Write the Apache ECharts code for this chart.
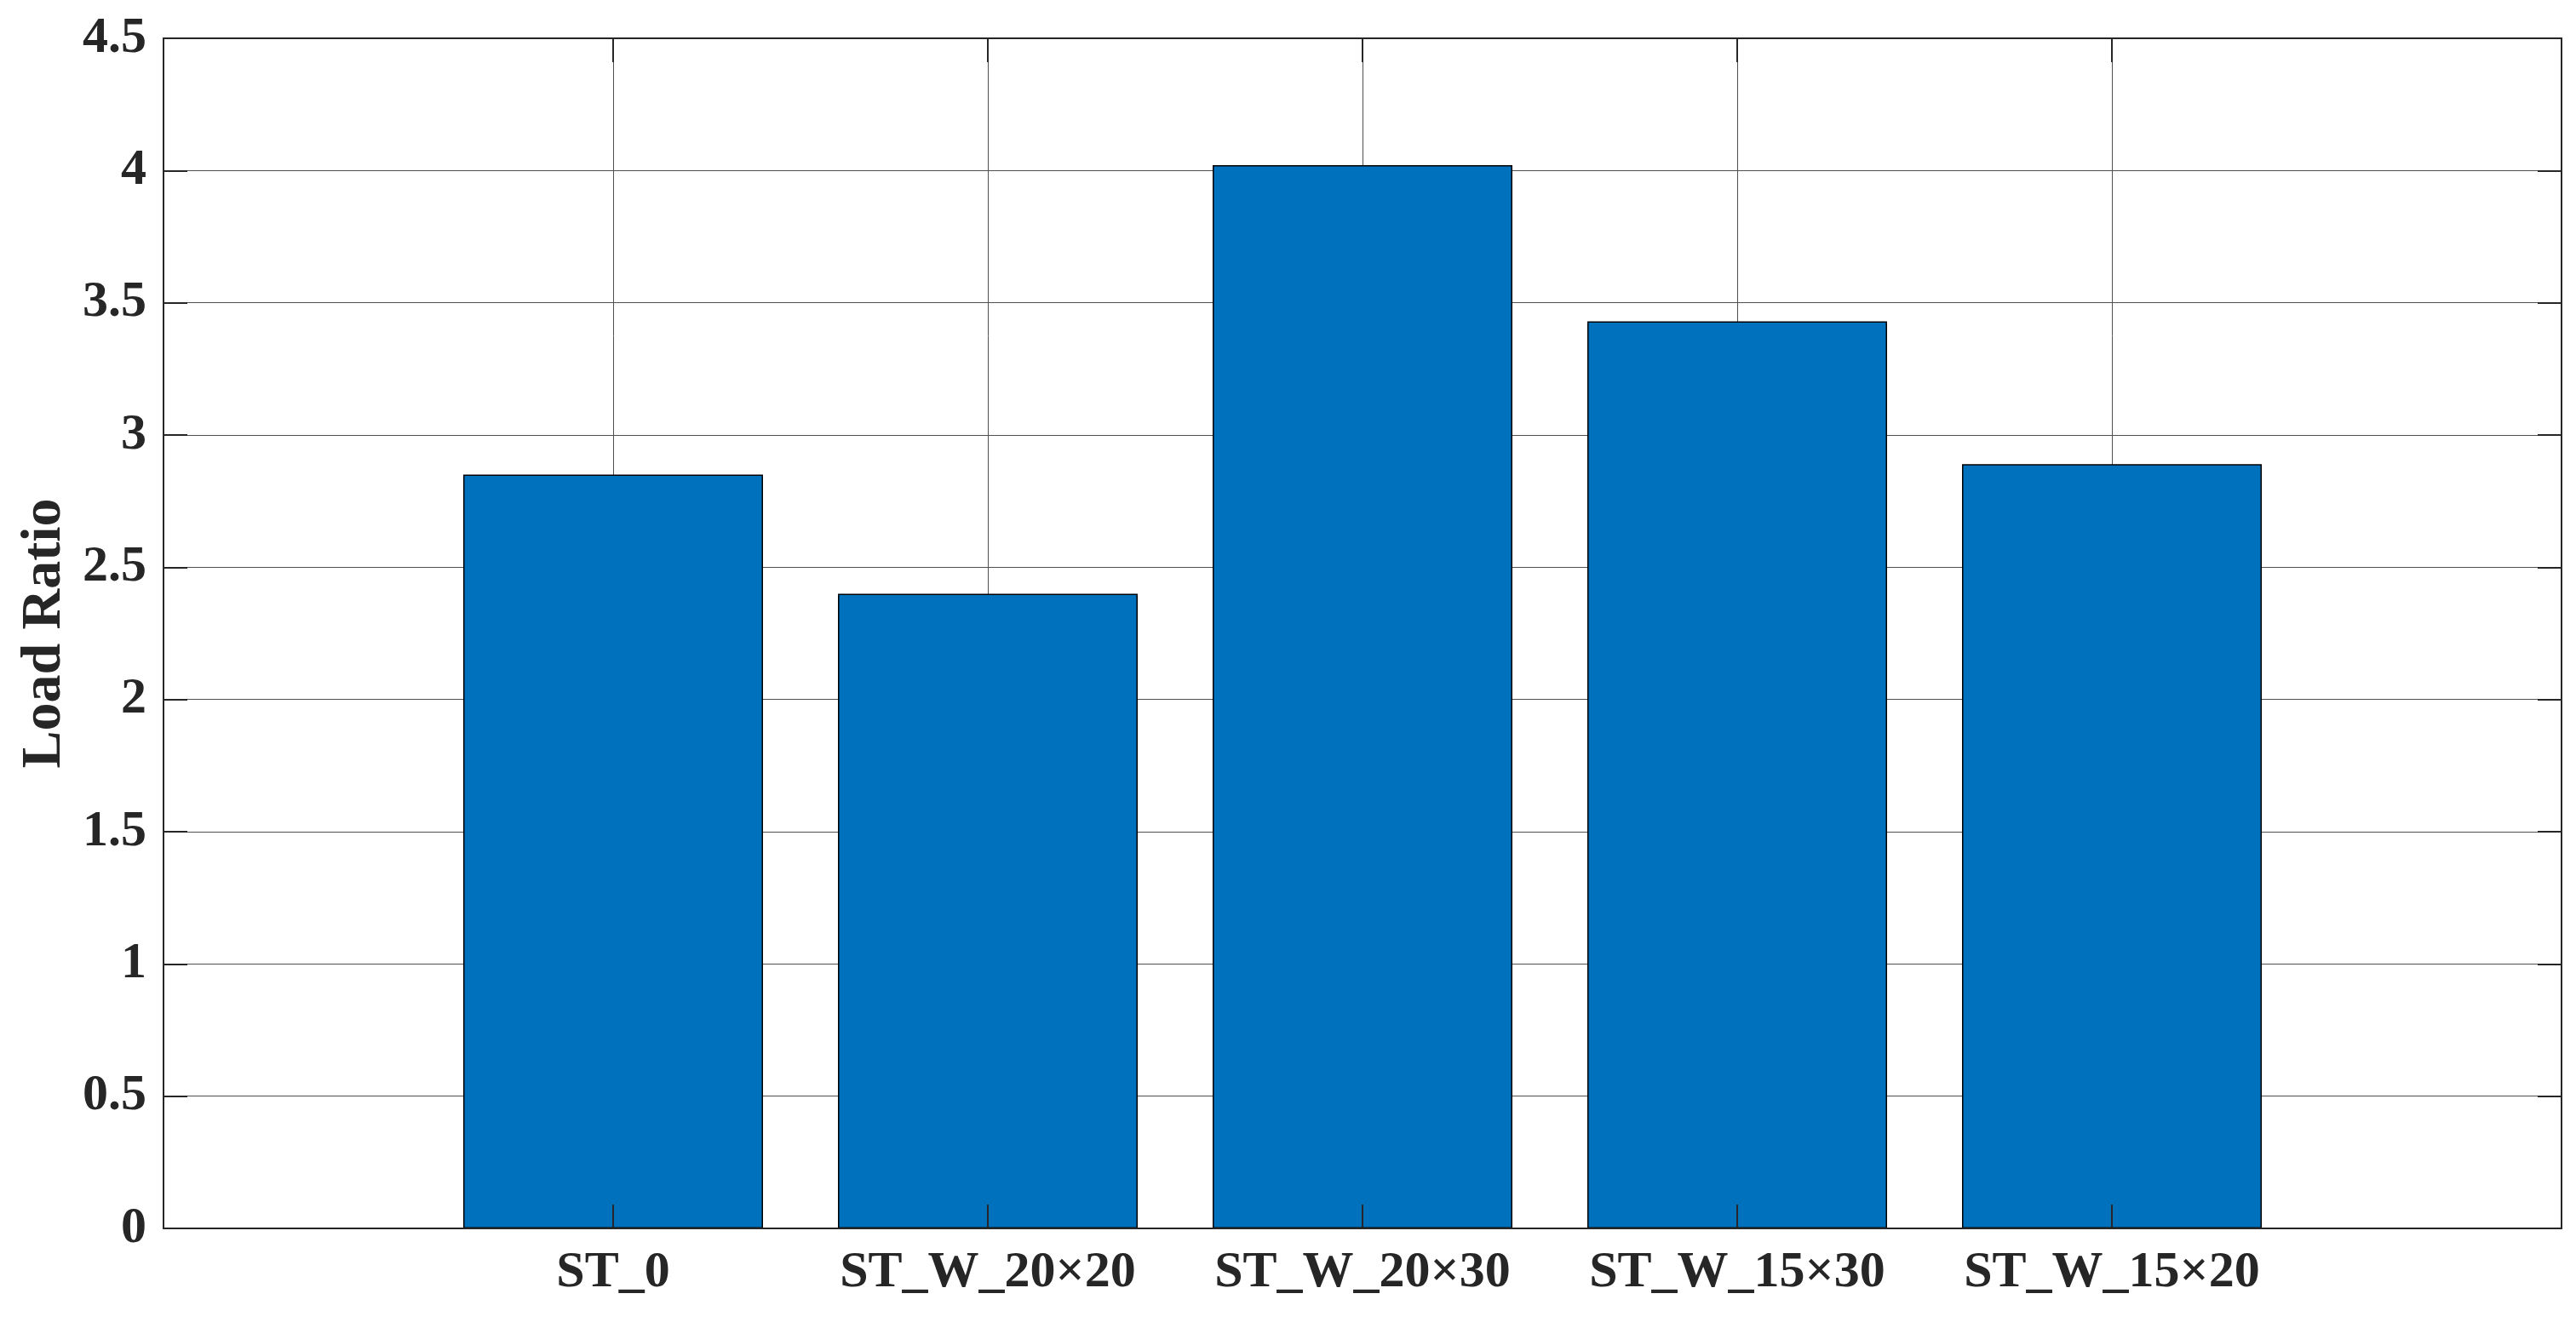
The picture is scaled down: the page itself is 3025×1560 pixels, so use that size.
<!DOCTYPE html>
<html>
<head>
<meta charset="utf-8">
<script src="https://cdn.jsdelivr.net/npm/echarts@6/dist/echarts.min.js"></script>
<style>
  html, body { margin: 0; padding: 0; background: #fff; }
  #chart { width: 3025px; height: 1560px; }
</style>
</head>
<body>
<div id="chart"></div>
<script>
// data
const categories = ["ST_0", "ST_W_20×20", "ST_W_20×30", "ST_W_15×30", "ST_W_15×20"];
const positions = [1, 2, 3, 4, 5];
const loadRatio = [2.85, 2.40, 4.02, 3.43, 2.89];
const yTicks = [0, 4.5, 0.5]; // min, max, step

const font = "'Liberation Serif', 'Times New Roman', serif";
const ink = "#262626";
const grid = { left: 192, right: 17, top: 45, bottom: 117 };
const xMin = -0.2, xMax = 6.2;

const chart = echarts.init(document.getElementById("chart"));
const unit = (chart.getWidth() - grid.left - grid.right) / (xMax - xMin);

const barData = positions.map((p, i) => [p, loadRatio[i]]);

// shared bits for the "box" axes drawn above the bars
const boxLine = { show: true, onZero: false, lineStyle: { color: ink, width: 2 } };
const boxTick = { show: true, inside: true, length: 28, lineStyle: { color: ink, width: 2 } };

chart.setOption({
  animation: false,
  backgroundColor: "#fff",
  grid: grid,
  xAxis: [
    {
      // grid lines only, behind bars
      type: "value", min: xMin, max: xMax, position: "bottom", z: 0,
      axisLine: { show: false },
      axisTick: { show: false, customValues: positions },
      axisLabel: { show: false, customValues: positions },
      splitLine: { show: true, lineStyle: { color: "#505050", width: 1 } }
    },
    {
      type: "value", min: xMin, max: xMax, position: "bottom", z: 10,
      axisLine: boxLine,
      axisTick: Object.assign({ customValues: positions }, boxTick),
      axisLabel: {
        customValues: positions,
        margin: 22,
        color: ink,
        fontFamily: font,
        fontWeight: "bold",
        fontSize: 60,
        formatter: v => categories[positions.indexOf(v)] || ""
      },
      splitLine: { show: false }
    },
    {
      type: "value", min: xMin, max: xMax, position: "top", z: 10,
      axisLine: boxLine,
      axisTick: Object.assign({ customValues: positions }, boxTick),
      axisLabel: { show: false, customValues: positions },
      splitLine: { show: false }
    }
  ],
  yAxis: [
    {
      type: "value", min: yTicks[0], max: yTicks[1], interval: yTicks[2], position: "left", z: 0,
      axisLine: { show: false },
      axisTick: { show: false },
      axisLabel: { show: false },
      splitLine: { show: true, lineStyle: { color: "#505050", width: 1 } }
    },
    {
      type: "value", min: yTicks[0], max: yTicks[1], interval: yTicks[2], position: "left", z: 10,
      name: "Load Ratio",
      nameLocation: "middle",
      nameGap: 100,
      nameTextStyle: { color: ink, fontFamily: font, fontWeight: "bold", fontSize: 66 },
      axisLine: boxLine,
      axisTick: boxTick,
      axisLabel: { margin: 20, color: ink, fontFamily: font, fontWeight: "bold", fontSize: 60 },
      splitLine: { show: false }
    },
    {
      type: "value", min: yTicks[0], max: yTicks[1], interval: yTicks[2], position: "right", z: 10,
      axisLine: boxLine,
      axisTick: boxTick,
      axisLabel: { show: false },
      splitLine: { show: false }
    }
  ],
  series: [
    {
      type: "bar",
      xAxisIndex: 0,
      yAxisIndex: 0,
      z: 2,
      barWidth: 0.8 * unit,
      data: barData,
      itemStyle: { color: "#0072BD", borderColor: "#000", borderWidth: 1.5 }
    }
  ]
});
</script>
</body>
</html>
